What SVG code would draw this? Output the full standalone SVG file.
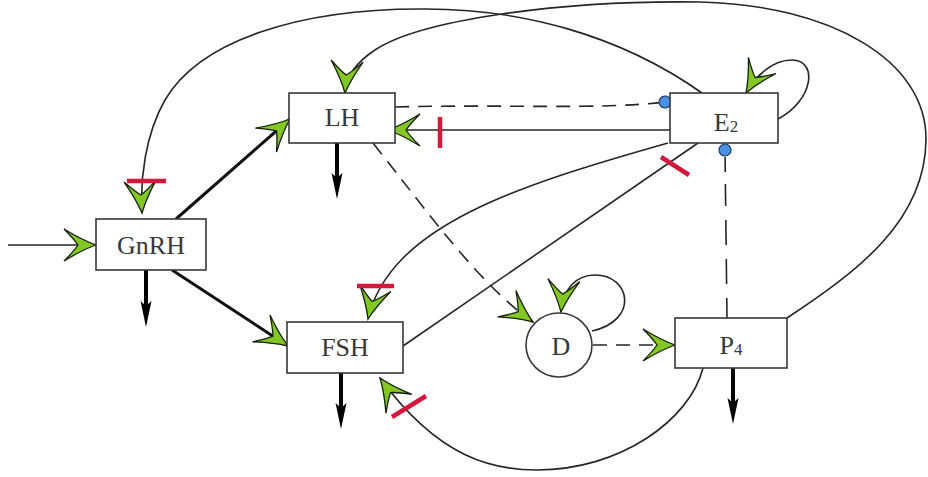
<svg xmlns="http://www.w3.org/2000/svg" width="928" height="477" viewBox="0 0 928 477">
  <style>
    .box { fill: #ffffff; stroke: #383838; stroke-width: 1.6; }
    .lbl { font-family: "Liberation Serif", "DejaVu Serif", serif; font-size: 26px; fill: #383838; text-anchor: middle; }
    .sub { font-size: 17px; }
    .ln { fill: none; stroke: #262626; stroke-width: 1.6; }
    .dash { stroke-dasharray: 14 9; }
    .thick { fill: none; stroke: #111111; stroke-width: 3; }
    .deg { fill: none; stroke: #000000; stroke-width: 4; }
    .bar { fill: none; stroke: #d4173a; stroke-width: 4.5; }
    .ga { fill: #82c722; stroke: #17200c; stroke-width: 1.3; stroke-linejoin: miter; }
    .ba { fill: #000000; stroke: none; }
    .dot { fill: #4b8fe0; stroke: #1f3d66; stroke-width: 1.2; }
  </style>
  <defs>
    <!-- green stealth head for activating edges -->
    <marker id="green" markerUnits="userSpaceOnUse" orient="auto" refX="0" refY="0" markerWidth="40" markerHeight="40" overflow="visible">
      <path class="ga" d="M0,0 Q-14,-5 -32,-16 Q-22,-6 -18,0 Q-22,6 -32,16 Q-14,5 0,0 Z"/>
    </marker>
    <!-- black head for degradation outflows -->
    <marker id="black" markerUnits="userSpaceOnUse" orient="auto" refX="0" refY="0" markerWidth="40" markerHeight="20" overflow="visible">
      <path class="ba" d="M18,0 L-8,-5.5 L-3,0 L-8,5.5 Z"/>
    </marker>
    <!-- round head for modulating edges -->
    <marker id="dot" markerUnits="userSpaceOnUse" orient="auto" refX="0" refY="0" markerWidth="16" markerHeight="16" overflow="visible">
      <circle class="dot" cx="0" cy="0" r="6"/>
    </marker>
  </defs>

  <g id="connectors">
    <!-- external input to GnRH -->
    <path class="ln" d="M8,245 H96" marker-end="url(#green)"/>
    <!-- GnRH stimulates LH and FSH -->
    <path class="thick" d="M176,219 L290,119" marker-end="url(#green)"/>
    <path class="thick" d="M172,270 L288,346" marker-end="url(#green)"/>
    <!-- clearance -->
    <path class="deg" d="M146,270 V309" marker-end="url(#black)"/>
    <path class="deg" d="M337,143 V181" marker-end="url(#black)"/>
    <path class="deg" d="M341,373 V411" marker-end="url(#black)"/>
    <path class="deg" d="M733,368 V406" marker-end="url(#black)"/>
    <!-- LH to E2 (dashed, round head) -->
    <path class="ln dash" d="M395,107 C500,104 600,110 665,102" marker-end="url(#dot)"/>
    <!-- E2 to LH with bar -->
    <path class="ln" d="M670,130 H388" marker-end="url(#green)"/>
    <path class="bar" d="M440,117 V148"/>
    <!-- E2 to GnRH, long arc over the top -->
    <path class="ln" d="M702,93 C620,35 520,8 420,9 C300,9 200,40 165,100 C145,135 140,180 142,213" marker-end="url(#green)"/>
    <path class="bar" d="M127,181 H166"/>
    <!-- P4 to LH, long arc round the right -->
    <path class="ln" d="M787,318 C860,270 925,220 926,140 C927,60 830,5 700,2 C560,0 420,20 375,50 C355,63 346,78 345,93" marker-end="url(#green)"/>
    <!-- E2 self loop -->
    <path class="ln" d="M778,119 C814,100 818,60 792,60 C772,60 756,76 746,93" marker-end="url(#green)"/>
    <!-- D self loop -->
    <path class="ln" d="M592,331 C640,320 630,275 595,275 C575,275 563,290 561,312" marker-end="url(#green)"/>
    <!-- LH to D (dashed) -->
    <path class="ln dash" d="M373,143 C430,215 480,285 533,322" marker-end="url(#green)"/>
    <!-- D to P4 (dashed) -->
    <path class="ln dash" d="M593,345 H675" marker-end="url(#green)"/>
    <!-- E2 to P4 (dashed, round head at E2) -->
    <path class="ln" d="M725,150 L727,318" stroke-dasharray="0 7 15 12 22 14 25 14 25 14 25 14 25 14" marker-start="url(#dot)"/>
    <!-- E2 to FSH with bar -->
    <path class="ln" d="M668,143 C520,185 390,225 368,319" marker-end="url(#green)"/>
    <path class="bar" d="M357,286 H394"/>
    <!-- FSH to E2 with bar -->
    <path class="ln" d="M403,346 L698,143"/>
    <path class="bar" d="M661,157 L689,175"/>
    <!-- P4 to FSH, arc underneath, with bar -->
    <path class="ln" d="M703,368 C690,420 620,470 537,470 C495,470 440,460 380,378" marker-end="url(#green)"/>
    <path class="bar" d="M392,417 L426,396"/>
  </g>

  <g id="node-gnrh">
    <rect class="box" x="96" y="219" width="110" height="51"/>
    <text class="lbl" x="151" y="254">GnRH</text>
  </g>
  <g id="node-lh">
    <rect class="box" x="289" y="93" width="106" height="50"/>
    <text class="lbl" x="342" y="126">LH</text>
  </g>
  <g id="node-e2">
    <rect class="box" x="670" y="93" width="108" height="50"/>
    <text class="lbl" x="726" y="131" font-size="25">E<tspan class="sub" dy="1">2</tspan></text>
  </g>
  <g id="node-fsh">
    <rect class="box" x="287" y="322" width="116" height="51"/>
    <text class="lbl" x="345" y="356">FSH</text>
  </g>
  <g id="node-d">
    <ellipse class="box" cx="559" cy="345" rx="33" ry="32"/>
    <text class="lbl" x="561" y="355" font-size="25">D</text>
  </g>
  <g id="node-p4">
    <rect class="box" x="675" y="318" width="112" height="50"/>
    <text class="lbl" x="731" y="354" font-size="25">P<tspan class="sub" dy="1">4</tspan></text>
  </g>
</svg>
